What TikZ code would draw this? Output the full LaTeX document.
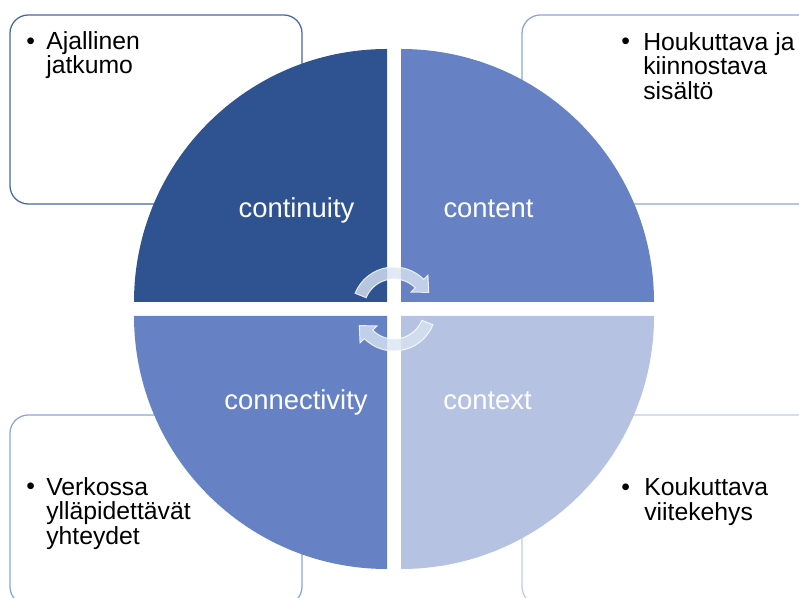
\documentclass[tikz,border=0pt]{standalone}
\usepackage{fontspec}
\setmainfont{Liberation Sans}
\usepackage{xcolor}
\definecolor{contdark}{RGB}{47, 82, 144}
\definecolor{contmid}{RGB}{102, 130, 196}
\definecolor{contlight}{RGB}{181, 194, 226}
\definecolor{edgedark}{RGB}{70, 104, 168}
\definecolor{edgemid}{RGB}{140, 164, 220}
\definecolor{edgelight}{RGB}{190, 203, 234}
\definecolor{cyclefill}{RGB}{218, 227, 243}

\tikzset{
  notebox/.style={fill=white, line width=0.9pt, rounded corners=13pt},
  quarterlabel/.style={anchor=base, text=white, inner sep=0pt, font=\fontsize{19.5}{23}\selectfont},
  bullettext/.style={anchor=base west, align=left, inner sep=0pt, font=\fontsize{17.6}{17.4}\selectfont},
  cyclearrow/.style={fill=cyclefill, fill opacity=0.8, draw=white, draw opacity=0.8, line width=0.7pt}
}

\begin{document}
\begin{tikzpicture}[x=0.025cm, y=0.025cm]

\useasboundingbox (0,0) rectangle (799,597);
\clip (0,0) rectangle (799,597);

% Corner boxes (behind the circle)
\draw[notebox, draw=edgedark] (10,393) rectangle (302,582);
\draw[notebox, draw=edgemid] (522,393) rectangle (840,582);
\draw[notebox, draw=edgemid] (10,-8) rectangle (302,182);
\draw[notebox, draw=edgelight] (522,-8) rectangle (840,182);

% Circle quarters
\fill[contdark] (387,295) -- (134,295) arc[start angle=180, end angle=90, radius=253] -- cycle;
\fill[contmid] (401,295) -- (401,548) arc[start angle=90, end angle=0, radius=253] -- cycle;
\fill[contmid] (387,281) -- (387,28) arc[start angle=270, end angle=180, radius=253] -- cycle;
\fill[contlight] (401,281) -- (654,281) arc[start angle=0, end angle=-90, radius=253] -- cycle;

% Quarter labels
\node[quarterlabel] (continuity) at (296.5,379) {continuity};
\node[quarterlabel] (content) at (488.5,379) {content};
\node[quarterlabel] (connectivity) at (296,187) {connectivity};
\node[quarterlabel] (context) at (487.5,187) {context};

% Bullet texts (multi-line nodes sit on their last baseline)
\node[bullettext] (dot1) at (26,547.7) {•};
\node[bullettext] (note1) at (46,523) {Ajallinen\\jatkumo};
\node[bullettext] (dot2) at (621,547.7) {•};
\node[bullettext] (note2) at (643,497.9) {Houkuttava ja\\kiinnostava\\sisältö};
\node[bullettext] (dot3) at (26,102.5) {•};
\node[bullettext] (note3) at (46,52.7) {Verkossa\\ylläpidettävät\\yhteydet};
\node[bullettext] (dot4) at (621,101.5) {•};
\node[bullettext] (note4) at (644,76.8) {Koukuttava\\viitekehys};

% Cycle arrows in the middle
\begin{scope}[shift={(394,288)}]
  \path[cyclearrow] (158:42) arc[start angle=158, end angle=45, radius=42]
    -- (45:48) -- (25.5:38.5) -- (45:24) -- (45:30)
    arc[start angle=45, end angle=158, radius=30] -- cycle;
\end{scope}
\begin{scope}[shift={(394,288)}, rotate=180]
  \path[cyclearrow] (158:42) arc[start angle=158, end angle=45, radius=42]
    -- (45:48) -- (25.5:38.5) -- (45:24) -- (45:30)
    arc[start angle=45, end angle=158, radius=30] -- cycle;
\end{scope}

\end{tikzpicture}
\end{document}
